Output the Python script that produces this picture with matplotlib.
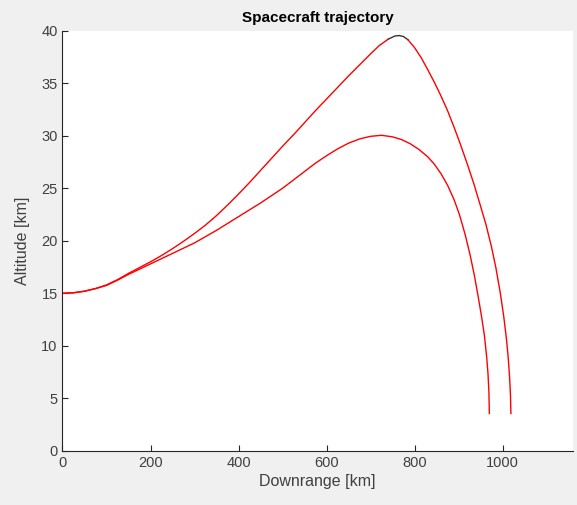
import numpy as np
import matplotlib
matplotlib.use("Agg")
import matplotlib.pyplot as plt

# -----------------------------
# Data
# -----------------------------
upper_x = [0, 25, 50, 75, 100, 125, 150, 175, 200, 225, 250, 275, 300, 325,
           350, 375, 400, 425, 450, 475, 500, 525, 550, 575, 600, 625, 650,
           675, 700, 720, 740, 755, 765, 775, 785, 800, 815, 830, 845, 860,
           875, 890, 905, 920, 935, 950, 962, 975, 985, 995, 1003, 1009,
           1013, 1016, 1018, 1019]
upper_y = [15.0, 15.05, 15.2, 15.45, 15.8, 16.3, 16.9, 17.45, 18.0, 18.6,
           19.25, 19.95, 20.7, 21.5, 22.4, 23.4, 24.45, 25.55, 26.7, 27.85,
           29.0, 30.1, 31.25, 32.4, 33.5, 34.6, 35.7, 36.75, 37.8, 38.6, 39.2,
           39.5, 39.55, 39.45, 39.15, 38.4, 37.45, 36.3, 35.1, 33.8, 32.4,
           30.8, 29.1, 27.3, 25.4, 23.3, 21.6, 19.4, 17.4, 15.0, 12.7, 10.6,
           8.8, 7.0, 5.3, 3.55]

lower_x = [0, 25, 50, 75, 100, 125, 150, 175, 200, 225, 250, 275, 300, 325,
           350, 375, 400, 425, 450, 475, 500, 525, 550, 575, 600, 625, 650,
           675, 700, 725, 750, 770, 790, 810, 830, 845, 860, 875, 890, 902,
           915, 926, 936, 945, 953, 959, 964, 967, 969, 970]
lower_y = [15.0, 15.05, 15.2, 15.45, 15.75, 16.25, 16.8, 17.3, 17.8, 18.3,
           18.8, 19.3, 19.8, 20.4, 21.0, 21.65, 22.3, 22.95, 23.6, 24.3, 25.0,
           25.8, 26.6, 27.4, 28.1, 28.75, 29.3, 29.7, 29.95, 30.05, 29.9,
           29.65, 29.25, 28.7, 28.0, 27.3, 26.4, 25.3, 23.9, 22.5, 20.6, 18.7,
           16.7, 14.6, 12.6, 10.9, 8.9, 7.3, 5.6, 3.55]

x_ticks = [0, 200, 400, 600, 800, 1000]
y_ticks = [0, 5, 10, 15, 20, 25, 30, 35, 40]

# -----------------------------
# Plot
# -----------------------------
plt.rcParams['font.family'] = ['Liberation Sans', 'DejaVu Sans']
gray = '#262626'
label_gray = '#404040'

fig = plt.figure(figsize=(5.77, 5.05), dpi=100, facecolor='#f0f0f0')
ax = fig.add_axes([0.1083, 0.1073, 0.8847, 0.8317])
ax.set_facecolor('white')

ux = np.array(upper_x, dtype=float)
uy = np.array(upper_y, dtype=float)
apex = (ux >= 740) & (ux <= 790)
# apex of the upper arc shows in black, the rest is red
ax.plot(ux, np.where(apex, uy, np.nan), color='#333333', lw=1.0)
ax.plot(ux, np.where((ux > 745) & (ux < 785), np.nan, uy), color='red', lw=1.0)
ax.plot(lower_x, lower_y, color='red', lw=1.0)

ax.set_xlim(0, 1160)
ax.set_ylim(0, 40)
ax.set_xticks(x_ticks)
ax.set_yticks(y_ticks)
for s in ['top', 'right']:
    ax.spines[s].set_visible(False)
for s in ['left', 'bottom']:
    ax.spines[s].set_color(gray)
    ax.spines[s].set_linewidth(0.8)
ax.tick_params(direction='in', length=4, width=0.8, color=gray,
               labelcolor=label_gray, labelsize=10.5)

ax.set_xlabel("Downrange [km]", fontsize=11.5, color=label_gray, labelpad=3)
ax.set_ylabel("Altitude [km]", fontsize=11.5, color=label_gray, labelpad=8)
ax.set_title("Spacecraft trajectory", fontsize=11, fontweight='bold',
             color='black', pad=6)

fig.savefig("out.png", dpi=100, facecolor=fig.get_facecolor())
